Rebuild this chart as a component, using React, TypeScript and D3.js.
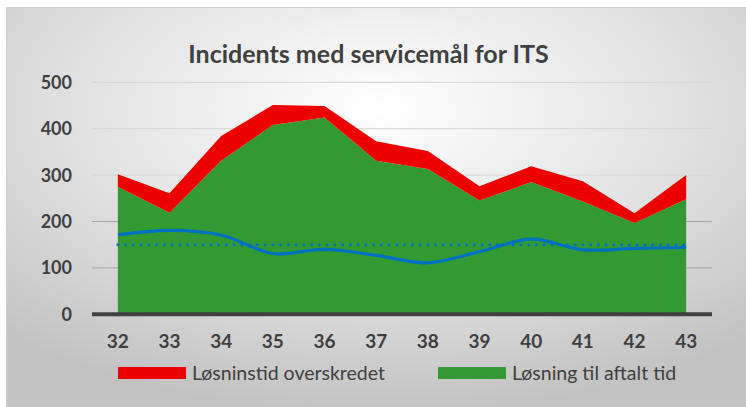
import React, { useEffect, useRef } from 'react';
import * as d3 from 'd3';

const weeks = ['32', '33', '34', '35', '36', '37', '38', '39', '40', '41', '42', '43'];
const onTime = [275, 219, 331, 408, 424, 331, 313, 245, 285, 243, 197, 248];
const overdue = [27, 42, 53, 43, 25, 42, 39, 31, 34, 44, 21, 52];
const trend = [171, 181, 171, 131, 140, 127, 111, 135, 162, 139, 142, 144];
const target = [150, 150, 150, 150, 150, 150, 150, 150, 150, 150, 150, 150];
const yTicks = [0, 100, 200, 300, 400, 500];
const legendItems = [
  { label: 'Løsninstid overskredet', color: '#ee0000' },
  { label: 'Løsning til aftalt tid', color: '#339933' }
];

const W = 746;
const H = 407;

export default function App() {
  const svgRef = useRef<SVGSVGElement>(null);

  useEffect(() => {
    if (!svgRef.current) return;
    const svg = d3.select(svgRef.current);
    svg.selectAll('*').remove();

    const font = 'Lato, "Open Sans", sans-serif';
    const textColor = '#404040';

    // background gradient
    const defs = svg.append('defs');
    const grad = defs.append('radialGradient')
      .attr('id', 'bg')
      .attr('cx', '50%').attr('cy', '25%').attr('r', '75%');
    grad.append('stop').attr('offset', '0%').attr('stop-color', '#ffffff');
    grad.append('stop').attr('offset', '50%').attr('stop-color', '#e4e4e4');
    grad.append('stop').attr('offset', '100%').attr('stop-color', '#c2c2c2');

    svg.append('rect').attr('width', W).attr('height', H).attr('fill', '#fff');
    svg.append('rect')
      .attr('x', 6.5).attr('y', 7.5)
      .attr('width', W).attr('height', H)
      .attr('fill', 'url(#bg)')
      .attr('stroke', '#d0d0d0');

    const x = d3.scalePoint<string>().domain(weeks).range([92, 712]).padding(0.5);
    const y = d3.scaleLinear().domain([0, 500]).range([314.3, 82.3]);

    // gridlines
    svg.append('g')
      .selectAll('line')
      .data(yTicks.filter(t => t > 0))
      .join('line')
      .attr('x1', 92).attr('x2', 712)
      .attr('y1', d => y(d)).attr('y2', d => y(d))
      .attr('stroke', d => (d >= 300 ? '#d4d4d4' : '#a6a6a6'))
      .attr('stroke-width', 1);

    // stacked areas
    const rows = weeks.map((w, i) => ({ week: w, onTime: onTime[i], overdue: overdue[i] }));
    const stack = d3.stack<any>().keys(['onTime', 'overdue']);
    const series = stack(rows);
    const colors: Record<string, string> = { onTime: '#339933', overdue: '#ee0000' };

    const area = d3.area<any>()
      .x(d => x(d.data.week) as number)
      .y0(d => y(d[0]))
      .y1(d => y(d[1]));

    svg.append('g')
      .selectAll('path')
      .data(series)
      .join('path')
      .attr('d', d => area(d as any))
      .attr('fill', d => colors[d.key]);

    // trend line (smoothed)
    const line = d3.line<number>()
      .x((_, i) => x(weeks[i]) as number)
      .y(d => y(d))
      .curve(d3.curveCatmullRom.alpha(0.5));

    svg.append('path')
      .attr('d', line(trend))
      .attr('fill', 'none')
      .attr('stroke', '#0070c0')
      .attr('stroke-width', 3.2);

    const straight = d3.line<number>()
      .x((_, i) => x(weeks[i]) as number)
      .y(d => y(d));

    svg.append('path')
      .attr('d', straight(target))
      .attr('fill', 'none')
      .attr('stroke', '#0070c0')
      .attr('stroke-width', 3)
      .attr('stroke-linecap', 'round')
      .attr('stroke-dasharray', '0 7.75');

    // x axis line
    svg.append('line')
      .attr('x1', 92).attr('x2', 712)
      .attr('y1', y(0)).attr('y2', y(0))
      .attr('stroke', '#404040')
      .attr('stroke-width', 4);

    // y labels
    svg.append('g')
      .selectAll('text')
      .data(yTicks)
      .join('text')
      .attr('x', 72)
      .attr('y', d => y(d))
      .attr('dy', '0.36em')
      .attr('text-anchor', 'end')
      .style('font-family', font)
      .style('font-size', '18px')
      .style('font-weight', 'bold')
      .style('fill', textColor)
      .text(d => d);

    // x labels
    svg.append('g')
      .selectAll('text')
      .data(weeks)
      .join('text')
      .attr('x', d => x(d) as number)
      .attr('y', 348)
      .attr('text-anchor', 'middle')
      .style('font-family', font)
      .style('font-size', '19px')
      .style('font-weight', 'bold')
      .style('fill', textColor)
      .text(d => d);

    // title
    svg.append('text')
      .attr('x', 368.5)
      .attr('y', 62.5)
      .attr('text-anchor', 'middle')
      .style('font-family', font)
      .style('font-size', '25px')
      .style('font-weight', 'bold')
      .style('fill', textColor)
      .text('Incidents med servicemål for ITS');

    // legend
    const legendX = [118, 438];
    const lg = svg.append('g')
      .selectAll('g')
      .data(legendItems)
      .join('g')
      .attr('transform', (_, i) => `translate(${legendX[i]},367)`);
    lg.append('rect')
      .attr('width', 68).attr('height', 12)
      .attr('fill', d => d.color);
    lg.append('text')
      .attr('x', 74)
      .attr('y', 6)
      .attr('dy', '0.36em')
      .style('font-family', font)
      .style('font-size', '19.5px')
      .style('fill', textColor)
      .text(d => d.label);
  }, []);

  return (
    <svg
      ref={svgRef}
      width={W}
      height={H}
      style={{ position: 'absolute', left: 0, top: 0, display: 'block' }}
    />
  );
}
